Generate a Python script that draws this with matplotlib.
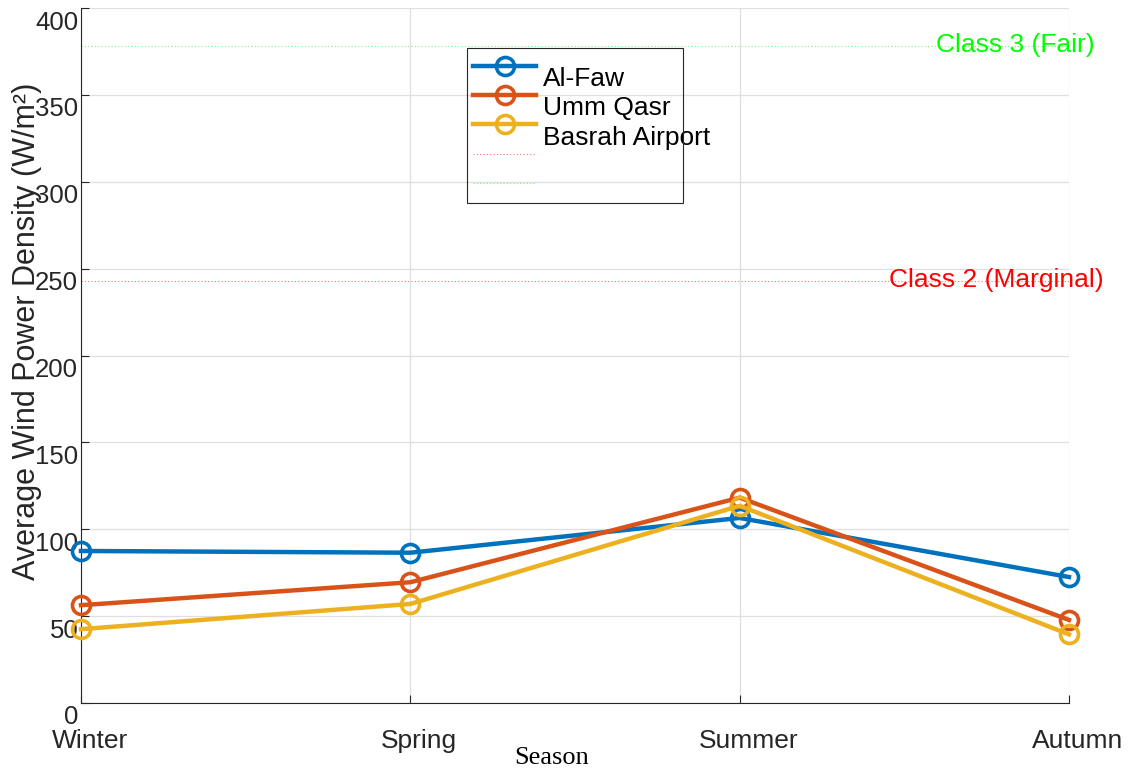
import matplotlib
matplotlib.use("Agg")
import matplotlib.pyplot as plt
from matplotlib.patches import Rectangle
from matplotlib.transforms import ScaledTranslation
import numpy as np

# Seasonal average wind power density per station (W/m²)
seasons = ["Winter", "Spring", "Summer", "Autumn"]
al_faw = [87.5, 86.5, 106.5, 72.5]
umm_qasr = [56.3, 69.5, 118.2, 47.8]
basrah_airport = [42.5, 57.0, 113.5, 39.5]
station_names = ["Al-Faw", "Umm Qasr", "Basrah Airport"]

# Wind power class thresholds
class_levels = [243, 378]
class_labels = ["Class 2 (Marginal)", "Class 3 (Fair)"]
class_colors = ["#FF0000", "#00FF00"]

y_ticks = [0, 50, 100, 150, 200, 250, 300, 350, 400]

station_colors = ["#0072BD", "#D95319", "#EDB120"]
axis_color = "#262626"

plt.rcParams["font.family"] = ["Liberation Sans", "DejaVu Sans"]

fig = plt.figure(figsize=(11.36, 7.72), dpi=100)
W, H = 1136, 772
ax = fig.add_axes([81 / W, 1 - 703 / H, 988 / W, 695 / H])

x = np.arange(len(seasons))
handles = []
for vals, name, col in zip([al_faw, umm_qasr, basrah_airport], station_names, station_colors):
    (ln,) = ax.plot(x, vals, color=col, linewidth=3.2, marker="o", markersize=13,
                    markerfacecolor="none", markeredgewidth=2.6, markeredgecolor=col,
                    label=name, zorder=3, clip_on=False)
    handles.append(ln)

class_lines = []
for lvl, col in zip(class_levels, class_colors):
    ln = ax.axhline(lvl, color=col, linestyle=(0, (1, 2)), linewidth=0.8, alpha=0.55, zorder=2)
    class_lines.append(ln)

# threshold annotations at the right edge
label_right = [3.106, 3.079]
for lvl, lab, col, xr in zip(class_levels, class_labels, class_colors, label_right):
    ax.text(xr, lvl - 3.5, lab, color=col, fontsize=19, ha="right", va="baseline",
            clip_on=False, zorder=4)

ax.set_xlim(0, 3)
ax.set_ylim(0, 400)
ax.set_xticks(x)
ax.set_xticklabels(seasons)
ax.set_yticks(y_ticks)
ax.set_yticklabels([str(v) for v in y_ticks])

ax.grid(True, color="#DFDFDF", linewidth=0.9, zorder=0)
ax.set_axisbelow(True)
for side in ["top", "right"]:
    ax.spines[side].set_visible(False)
for side in ["left", "bottom"]:
    ax.spines[side].set_color(axis_color)
    ax.spines[side].set_linewidth(0.8)

ax.tick_params(axis="y", direction="in", length=6, width=0.8, pad=2,
               labelsize=18.5, colors=axis_color)
ax.tick_params(axis="x", direction="in", length=6, width=0.8, pad=19,
               labelsize=19, colors=axis_color)

shift_down = ScaledTranslation(0, -0.12, fig.dpi_scale_trans)
for lab in ax.get_yticklabels():
    lab.set_transform(lab.get_transform() + shift_down)
shift_right = ScaledTranslation(0.09, 0, fig.dpi_scale_trans)
for lab in ax.get_xticklabels():
    lab.set_transform(lab.get_transform() + shift_right)

ax.set_xlabel("Season", fontsize=19, family=["Liberation Serif", "DejaVu Serif"], color="black")
ax.xaxis.set_label_coords((552 - 81) / 988, -(747 - 703) / 695)

fig.text(27 / W, 1 - 580 / H, "Average Wind Power Density (W/m²)", rotation=90,
         ha="center", va="bottom", fontsize=22, color=axis_color)

# legend: station lines plus the two unlabeled threshold lines
leg = ax.legend(handles + class_lines, station_names + ["", ""],
                loc="upper left", bbox_to_anchor=(473 / W, 1 - 56 / H),
                bbox_transform=fig.transFigure, frameon=False, fontsize=19,
                labelspacing=0.2, handlelength=2.4, handletextpad=0.25,
                borderpad=0, borderaxespad=0, numpoints=1)
for t in leg.get_texts():
    t.set_position((0, -11))
fig.add_artist(Rectangle((467 / W, 1 - 203 / H), 216 / W, 155 / H,
                         transform=fig.transFigure, fill=False,
                         edgecolor=axis_color, linewidth=0.8, zorder=5))

fig.savefig("out.png", dpi=100)
